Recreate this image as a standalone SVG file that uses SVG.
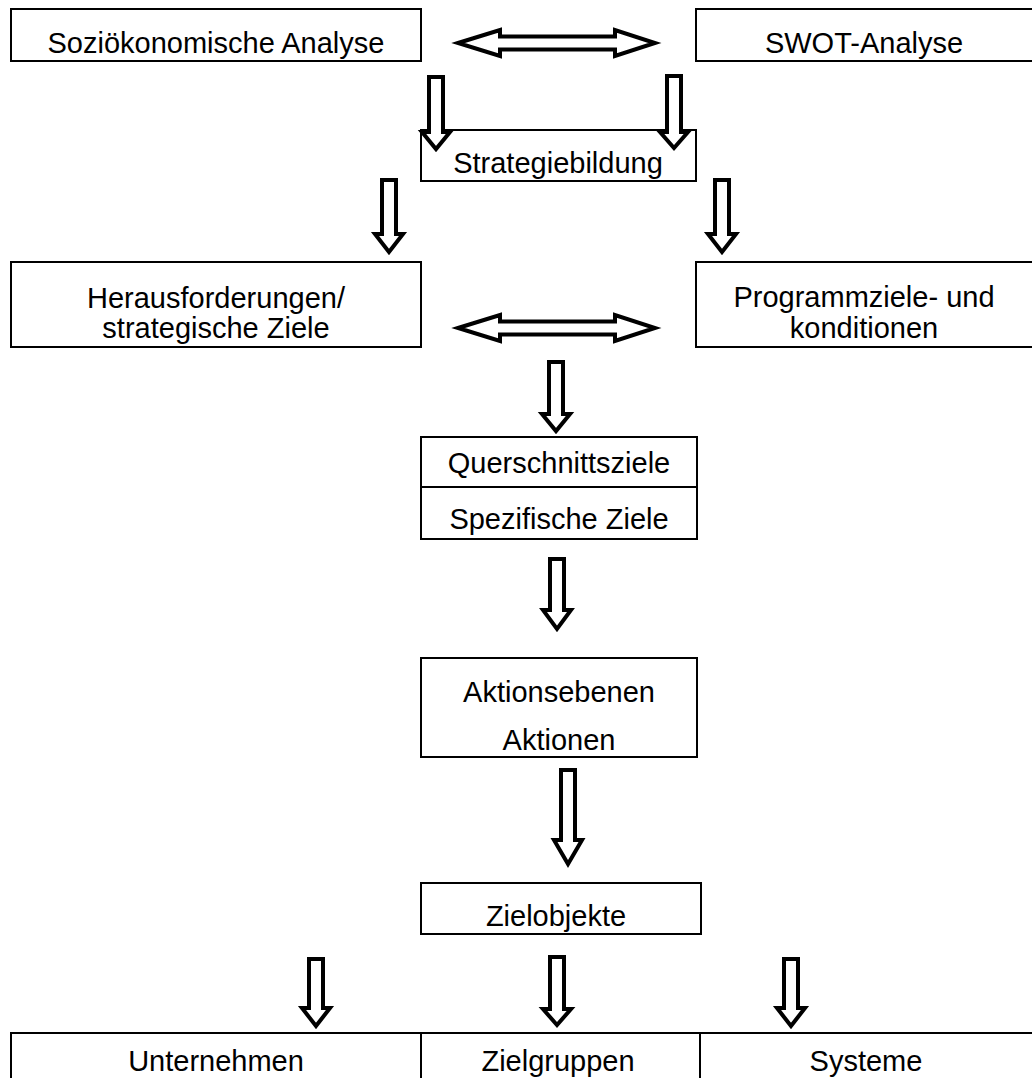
<svg xmlns="http://www.w3.org/2000/svg" width="1032" height="1078" viewBox="0 0 1032 1078">
<style>
.box{fill:#fff;stroke:#000;stroke-width:2}
.ln{stroke:#000;stroke-width:2;fill:none}
.arr{fill:#fff;stroke:#000;stroke-width:4;stroke-linejoin:miter}
text{font-family:"Liberation Sans",Arial,sans-serif;font-size:29px;fill:#000;text-anchor:middle}
</style>
<rect width="1032" height="1078" fill="#fff"/>
<g id="n-sozio"><rect class="box" x="11" y="9" width="410" height="52"/><text x="216" y="53">Soziökonomische Analyse</text></g>
<g id="n-swot"><rect class="box" x="696" y="9" width="340" height="52"/><text x="864" y="53">SWOT-Analyse</text></g>
<g id="n-strategie"><rect class="box" x="421" y="130" width="275" height="51"/><text x="558" y="173">Strategiebildung</text></g>
<g id="n-heraus"><rect class="box" x="11" y="262" width="410" height="85"/><text x="216" y="308">Herausforderungen/</text><text x="216" y="338">strategische Ziele</text></g>
<g id="n-programm"><rect class="box" x="696" y="262" width="340" height="85"/><text x="864" y="307">Programmziele- und</text><text x="864" y="338">konditionen</text></g>
<g id="n-quer"><rect class="box" x="421" y="437" width="276" height="102"/><line class="ln" x1="421" y1="487" x2="697" y2="487"/><text x="559" y="473">Querschnittsziele</text><text x="559" y="529">Spezifische Ziele</text></g>
<g id="n-aktion"><rect class="box" x="421" y="658" width="276" height="99"/><text x="559" y="702">Aktionsebenen</text><text x="559" y="750">Aktionen</text></g>
<g id="n-zielobj"><rect class="box" x="421" y="883" width="280" height="51"/><text x="556" y="926">Zielobjekte</text></g>
<g id="n-unternehmen"><path class="ln" d="M11,1080 V1033 H421 V1080"/><text x="216" y="1071">Unternehmen</text></g>
<g id="n-zielgruppen"><path class="ln" d="M421,1033 H700 V1080"/><text x="558" y="1071">Zielgruppen</text></g>
<g id="n-systeme"><path class="ln" d="M700,1033 H1036"/><text x="866" y="1071">Systeme</text></g>
<g id="connectors">
<path class="arr" d="M458,43 L500,30 V36.5 H615 V30 L655,43 L615,56 V49.5 H500 V56 Z"/>
<path class="arr" d="M458,328 L500,315 V321.5 H615 V315 L655,328 L615,341 V334.5 H500 V341 Z"/>
<path class="arr" d="M429,77 H443 V132 H450 L436,149 L422,132 H429 Z"/>
<path class="arr" d="M667,76 H681 V132 H688 L674,148 L660,132 H667 Z"/>
<path class="arr" d="M382,180 H396 V234 H403 L389,252 L375,234 H382 Z"/>
<path class="arr" d="M715,180 H729 V234 H736 L722,252 L708,234 H715 Z"/>
<path class="arr" d="M549,362 H563 V414 H570 L556,431 L542,414 H549 Z"/>
<path class="arr" d="M550,559 H564 V610 H571 L557,629 L543,610 H550 Z"/>
<path class="arr" d="M561,770 H575 V840 H582 L568,864 L554,840 H561 Z"/>
<path class="arr" d="M550,957 H564 V1009 H571 L557,1025 L543,1009 H550 Z"/>
<path class="arr" d="M309,959 H323 V1008 H330 L316,1026 L302,1008 H309 Z"/>
<path class="arr" d="M784,959 H798 V1008 H805 L791,1026 L777,1008 H784 Z"/>
</g>
</svg>
